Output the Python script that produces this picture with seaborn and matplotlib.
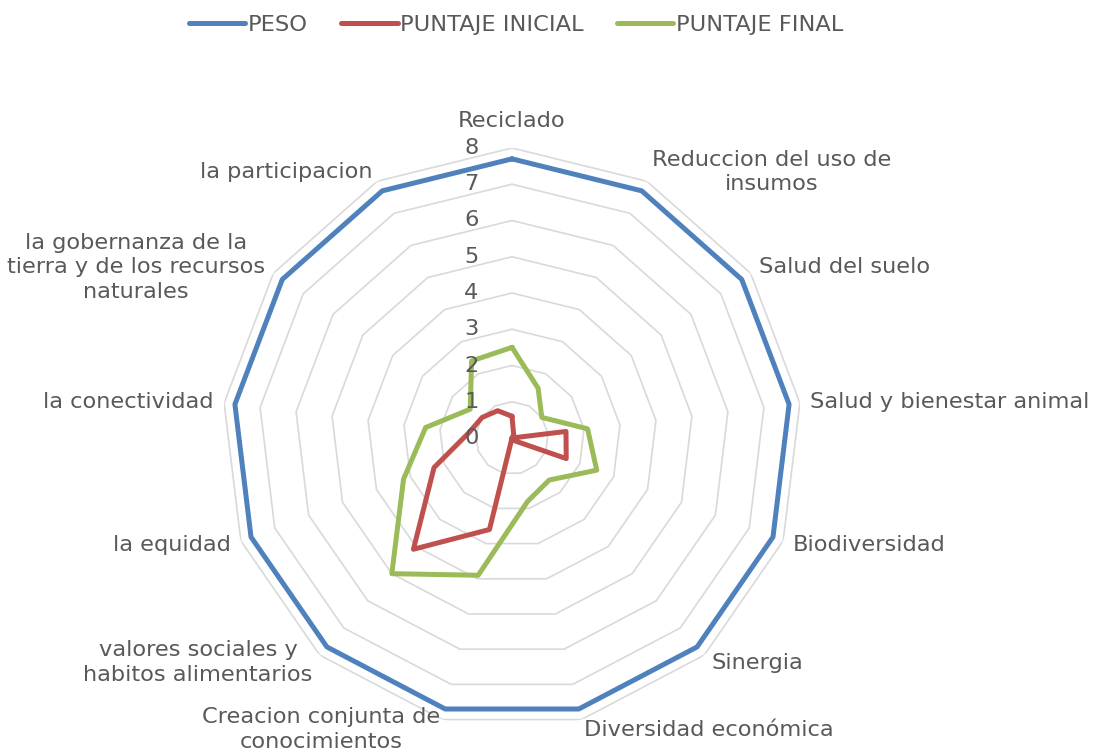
import numpy as np
import pandas as pd
import matplotlib
matplotlib.use('Agg')
import matplotlib.pyplot as plt
import seaborn as sns

# data
categorias = [
    'Reciclado',
    'Reduccion del uso de\ninsumos',
    'Salud del suelo',
    'Salud y bienestar animal',
    'Biodiversidad',
    'Sinergia',
    'Diversidad económica',
    'Creacion conjunta de\nconocimientos',
    'valores sociales y\nhabitos alimentarios',
    'la equidad',
    'la conectividad',
    'la gobernanza de la\ntierra y de los recursos\nnaturales',
    'la participacion',
]
peso = [7.7, 7.7, 7.7, 7.7, 7.7, 7.7, 7.7, 7.7, 7.7, 7.7, 7.7, 7.7, 7.7]
puntaje_inicial = [0.6, 0.1, 0.0, 1.5, 1.6, 0.1, 0.0, 2.6, 4.1, 2.3, 1.2, 1.0, 0.85]
puntaje_final = [2.5, 1.55, 1.0, 2.1, 2.5, 1.55, 1.8, 3.9, 5.0, 3.2, 2.4, 1.4, 2.4]
series = ['PESO', 'PUNTAJE INICIAL', 'PUNTAJE FINAL']
colores = ['#4f81bd', '#c0504d', '#9bbb59']
niveles = [1, 2, 3, 4, 5, 6, 7, 8]

sns.set_style('white')
plt.rcParams['font.family'] = ['DejaVu Sans']
gris = '#595959'
fs = 16.2

n = len(categorias)
theta = np.arange(n) * 2 * np.pi / n
theta_c = np.append(theta, theta[0])

# long table, each polygon closed
filas = []
for nombre, valores in zip(series, [peso, puntaje_inicial, puntaje_final]):
    v = list(valores) + [valores[0]]
    for i, (t, r) in enumerate(zip(theta_c, v)):
        filas.append({'serie': nombre, 'orden': i, 'theta': t, 'valor': r})
df = pd.DataFrame(filas)

fig = plt.figure(figsize=(10.98, 7.56), dpi=100)
ax = fig.add_axes([222 / 1098, 28 / 756, 580 / 1098, 580 / 756], projection='polar')
ax.set_theta_zero_location('N')
ax.set_theta_direction(-1)
ax.set_ylim(0, 8)
ax.grid(False)
ax.spines['polar'].set_visible(False)
ax.set_xticks([])
ax.set_yticks([])

# polygonal rings
for r in niveles:
    ax.plot(theta_c, [r] * (n + 1), color='#d9d9d9', lw=1.2, zorder=1)

sns.lineplot(data=df, x='theta', y='valor', hue='serie', hue_order=series,
             palette=colores, sort=False, estimator=None, units='serie',
             lw=3.6, ax=ax, zorder=3)
handles, labels = ax.get_legend_handles_labels()
ax.get_legend().remove()
ax.set_xlabel('')
ax.set_ylabel('')

# radial tick labels
for r in [0] + niveles:
    ax.annotate(str(r), xy=(0, r), xytext=(-24, 0), textcoords='offset points',
                ha='right', va='center', fontsize=fs, color=gris)

# category labels
for t, lab in zip(theta, categorias):
    s, c = np.sin(t), np.cos(t)
    if abs(s) < 0.1:
        ha, va, d = 'center', 'bottom', 12
    else:
        ha = 'left' if s > 0 else 'right'
        va, d = 'center', 7.5
    ax.annotate(lab, xy=(t, 8), xytext=(d * s, d * c), textcoords='offset points',
                ha=ha, va=va, multialignment='center', fontsize=fs, color=gris,
                linespacing=1.3)

fig.legend(handles, labels, loc='center', bbox_to_anchor=(516 / 1098, 1 - 25 / 756),
           ncol=3, frameon=False, fontsize=fs, handlelength=2.5, handletextpad=0.1,
           columnspacing=1.5, labelcolor=gris)

fig.savefig('out.png', dpi=100)
